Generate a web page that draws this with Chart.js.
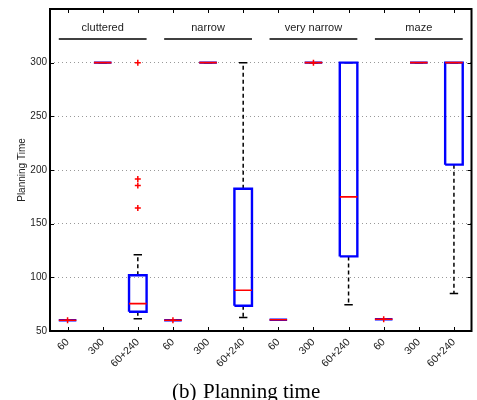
<!DOCTYPE html>
<html>
<head>
<meta charset="utf-8">
<script src="https://cdn.jsdelivr.net/npm/chart.js@4/dist/chart.umd.min.js"></script>
<style>
  html, body { margin: 0; padding: 0; background: #fff; }
  #wrap { width: 477px; height: 400px; }
</style>
</head>
<body>
<div id="wrap"><canvas id="planChart"></canvas></div>
<script>
// Planning time, 4 environments x 3 settings
const categories = ['60', '300', '60+240', '60', '300', '60+240', '60', '300', '60+240', '60', '300', '60+240'];
const groups = ['cluttered', 'narrow', 'very narrow', 'maze'];
const lowerQuartile = [60, 300, 68, 60, 300, 73.5, 60.5, 300, 119.5, 61, 300, 205];
const medians = [60, 300, 75.5, 60, 300, 88, 60.5, 300, 175, 61, 300, 300];
const upperQuartile = [60, 300, 102, 60, 300, 182.5, 60.5, 300, 300, 61, 300, 300];
const whiskerLow = [60, 300, 61.5, 60, 300, 62.5, 60.5, 300, 74.5, 61, 300, 85];
const whiskerHigh = [60, 300, 121, 60, 300, 300, 60.5, 300, 300, 61, 300, 300];
// [category number, value]
const outliers = [[1, 60], [3, 164.5], [3, 185.5], [3, 191.5], [3, 300], [4, 60], [8, 300], [10, 61]];
const yTicks = [50, 100, 150, 200, 250, 300];

const HALF = 0.25;  // half box width (category units)
const CAP = 0.12;   // half whisker cap width

const boxPts = [], medPts = [], whiskPts = [], capPts = [];
categories.forEach((c, i) => {
    const x = i + 1;
    const lo = lowerQuartile[i], hi = upperQuartile[i];
    boxPts.push({x: x - HALF, y: lo}, {x: x + HALF, y: lo}, {x: x + HALF, y: hi},
                {x: x - HALF, y: hi}, {x: x - HALF, y: lo}, {x: x, y: null});
    medPts.push({x: x - HALF, y: medians[i]}, {x: x + HALF, y: medians[i]}, {x: x, y: null});
    whiskPts.push({x: x, y: lo}, {x: x, y: whiskerLow[i]}, {x: x, y: null},
                  {x: x, y: hi}, {x: x, y: whiskerHigh[i]}, {x: x, y: null});
    capPts.push({x: x - CAP, y: whiskerLow[i]}, {x: x + CAP, y: whiskerLow[i]}, {x: x, y: null},
                {x: x - CAP, y: whiskerHigh[i]}, {x: x + CAP, y: whiskerHigh[i]}, {x: x, y: null});
});
const outlierPts = outliers.map(o => ({x: o[0], y: o[1]}));

const segStyle = { pointRadius: 0, fill: false, tension: 0, spanGaps: false };

// frame with inward ticks, group headers, caption
const framePlugin = {
    id: 'frameAndHeaders',
    afterDraw(chart) {
        const ctx = chart.ctx, a = chart.chartArea;
        const xs = chart.scales.x, ys = chart.scales.y;
        ctx.save();
        ctx.strokeStyle = '#000';
        ctx.lineWidth = 2;
        ctx.strokeRect(a.left, a.top, a.right - a.left, a.bottom - a.top);
        ctx.lineWidth = 1;
        ctx.beginPath();
        categories.forEach((c, i) => {
            const px = Math.round(xs.getPixelForValue(i + 1)) + 0.5;
            ctx.moveTo(px, a.bottom); ctx.lineTo(px, a.bottom - 4);
            ctx.moveTo(px, a.top); ctx.lineTo(px, a.top + 4);
        });
        yTicks.forEach(v => {
            const py = Math.round(ys.getPixelForValue(v)) + 0.5;
            ctx.moveTo(a.left, py); ctx.lineTo(a.left + 4, py);
            ctx.moveTo(a.right, py); ctx.lineTo(a.right - 4, py);
        });
        ctx.stroke();

        ctx.lineWidth = 1.5;
        ctx.fillStyle = '#222';
        ctx.font = '11px "Liberation Sans", Arial, sans-serif';
        ctx.textAlign = 'center';
        ctx.textBaseline = 'middle';
        groups.forEach((g, k) => {
            const x0 = xs.getPixelForValue(k * 3 + 0.75);
            const x1 = xs.getPixelForValue(k * 3 + 3.25);
            const ly = ys.getPixelForValue(322);
            ctx.beginPath();
            ctx.moveTo(x0, ly); ctx.lineTo(x1, ly);
            ctx.stroke();
            ctx.fillText(g, (x0 + x1) / 2, ys.getPixelForValue(332));
        });

        ctx.fillStyle = '#000';
        ctx.font = '21px "Liberation Serif", "Times New Roman", serif';
        ctx.textAlign = 'left';
        ctx.textBaseline = 'alphabetic';
        ctx.fillText('(b)', 172, 398);
        ctx.fillText('Planning time', 203, 398);
        ctx.restore();
    }
};

new Chart(document.getElementById('planChart'), {
    type: 'line',
    data: {
        datasets: [
            { label: 'outliers', data: outlierPts, showLine: false, pointStyle: 'cross',
              pointRadius: 3, pointBorderColor: '#ff0000', pointBorderWidth: 1.5, borderColor: '#ff0000' },
            { label: 'median', data: medPts, borderColor: '#ff0000', borderWidth: 1.6, ...segStyle },
            { label: 'box', data: boxPts, borderColor: '#0000ff', borderWidth: 2.4,
              borderJoinStyle: 'miter', ...segStyle },
            { label: 'caps', data: capPts, borderColor: '#000', borderWidth: 1.5, ...segStyle },
            { label: 'whiskers', data: whiskPts, borderColor: '#000', borderWidth: 1.5,
              borderDash: [4, 3], ...segStyle }
        ]
    },
    options: {
        responsive: true,
        maintainAspectRatio: false,
        animation: false,
        layout: { padding: { left: 0, right: 3, top: 8, bottom: 0 } },
        plugins: { legend: { display: false }, tooltip: { enabled: false } },
        scales: {
            x: {
                type: 'linear',
                min: 0.5,
                max: 12.5,
                afterBuildTicks: s => { s.ticks = categories.map((c, i) => ({ value: i + 1 })); },
                afterFit: s => { s.height = 69; },
                grid: { display: false, drawTicks: false },
                border: { display: false },
                ticks: {
                    autoSkip: false,
                    minRotation: 45,
                    maxRotation: 45,
                    padding: 5,
                    color: '#222',
                    font: { family: '"Liberation Sans", Arial, sans-serif', size: 10.5 },
                    callback: v => categories[v - 1]
                }
            },
            y: {
                min: 50,
                max: 350,
                afterBuildTicks: s => { s.ticks = yTicks.map(v => ({ value: v })); },
                afterFit: s => { s.width = 50; },
                border: { display: false, dash: [1, 3] },
                grid: {
                    drawTicks: false,
                    color: ctx => (ctx.tick && ctx.tick.value > 50 && ctx.tick.value < 350) ? '#999999' : 'rgba(0,0,0,0)',
                    lineWidth: 1
                },
                ticks: {
                    padding: 3,
                    color: '#222',
                    font: { family: '"Liberation Sans", Arial, sans-serif', size: 10 }
                },
                title: {
                    display: true,
                    text: 'Planning Time',
                    color: '#222',
                    padding: { top: 16, bottom: 0 },
                    font: { family: '"Liberation Sans", Arial, sans-serif', size: 10 }
                }
            }
        }
    },
    plugins: [framePlugin]
});
</script>
</body>
</html>
